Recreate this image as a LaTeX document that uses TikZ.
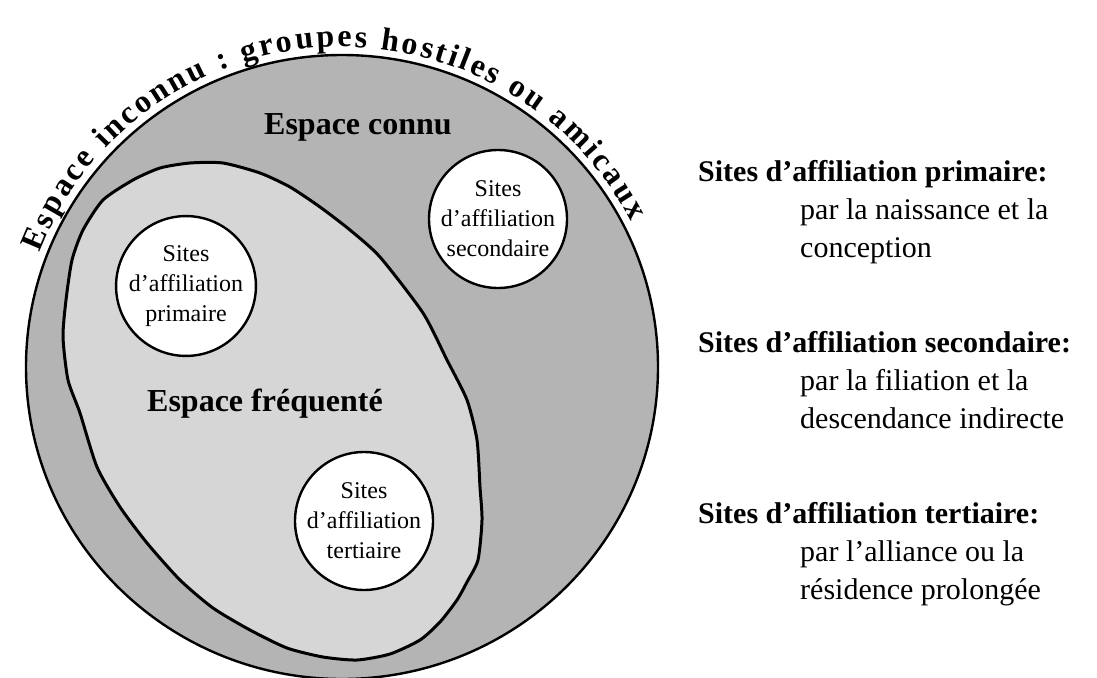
\documentclass[tikz,border=0pt]{standalone}
\usepackage{fontspec}
\setmainfont{Liberation Serif}
\usetikzlibrary{decorations.text}
\definecolor{connu}{RGB}{180,180,180}
\definecolor{frequ}{RGB}{214,214,214}
\tikzset{
  site/.style={circle, draw=black, line width=2.4pt, fill=white, minimum size=138pt, inner sep=0pt, align=center, font=\fontsize{24}{30}\selectfont},
  bigtitle/.style={font=\bfseries\fontsize{32}{32}\selectfont, inner sep=0pt, anchor=base},
  leghead/.style={font=\bfseries\fontsize{30}{36}\selectfont, inner sep=0pt, anchor=base west},
  legtext/.style={font=\fontsize{30}{36}\selectfont, inner sep=0pt, anchor=base west}
}
\begin{document}
\begin{tikzpicture}[x=1pt,y=1pt]
\useasboundingbox (0,0) rectangle (1097,-677);
% known space
\coordinate (C) at (342,-367);
\draw[line width=2.4pt, fill=connu] (C) ellipse[x radius=316, y radius=312];
% frequented space
\draw[line width=3pt, fill=frequ] plot[smooth cycle, tension=0.4] coordinates {
(190,-163) (223,-163) (260,-173) (290,-187) (320,-207) (350,-230) (380,-257)
(423,-313) (447,-360) (467,-400) (477,-440) (480,-487) (482,-520) (478,-560)
(467,-582) (457,-600) (440,-622) (420,-640) (390,-654) (357,-660) (323,-657)
(287,-648) (250,-630) (213,-608) (180,-580) (147,-543) (120,-507) (97,-467)
(80,-413) (68,-380) (63,-337) (66,-300) (72,-260) (83,-230) (103,-200)
(133,-180) (160,-168)};
% curved title
\path[decorate, decoration={text along path, text align={fit to path},
  text={|\bfseries\fontsize{32}{32}\selectfont|Espace inconnu : groupes hostiles ou amicaux}}]
  (C) ++(159:{324 and 320}) arc[start angle=159, end angle=27, x radius=324, y radius=320];
% labels
\node[bigtitle] (connu) at (358,-134) {Espace connu};
\node[bigtitle, anchor=base west] (frequente) at (147,-411) {Espace fréquenté};
% sites
\node[site] (prim) at (186,-286) {Sites\\d’affiliation\\primaire};
\node[site] (sec) at (498,-219) {Sites\\d’affiliation\\secondaire};
\node[site] (tert) at (364,-521) {Sites\\d’affiliation\\tertiaire};
% legend
\node[leghead] (h1) at (698,-181) {Sites d’affiliation primaire:};
\node[legtext] (t1a) at (800,-219) {par la naissance et la};
\node[legtext] (t1b) at (800,-257) {conception};
\node[leghead] (h2) at (698,-352) {Sites d’affiliation secondaire:};
\node[legtext] (t2a) at (800,-390) {par la filiation et la};
\node[legtext] (t2b) at (800,-428) {descendance indirecte};
\node[leghead] (h3) at (698,-523) {Sites d’affiliation tertiaire:};
\node[legtext] (t3a) at (800,-561) {par l’alliance ou la};
\node[legtext] (t3b) at (800,-599) {résidence prolongée};
\end{tikzpicture}
\end{document}
